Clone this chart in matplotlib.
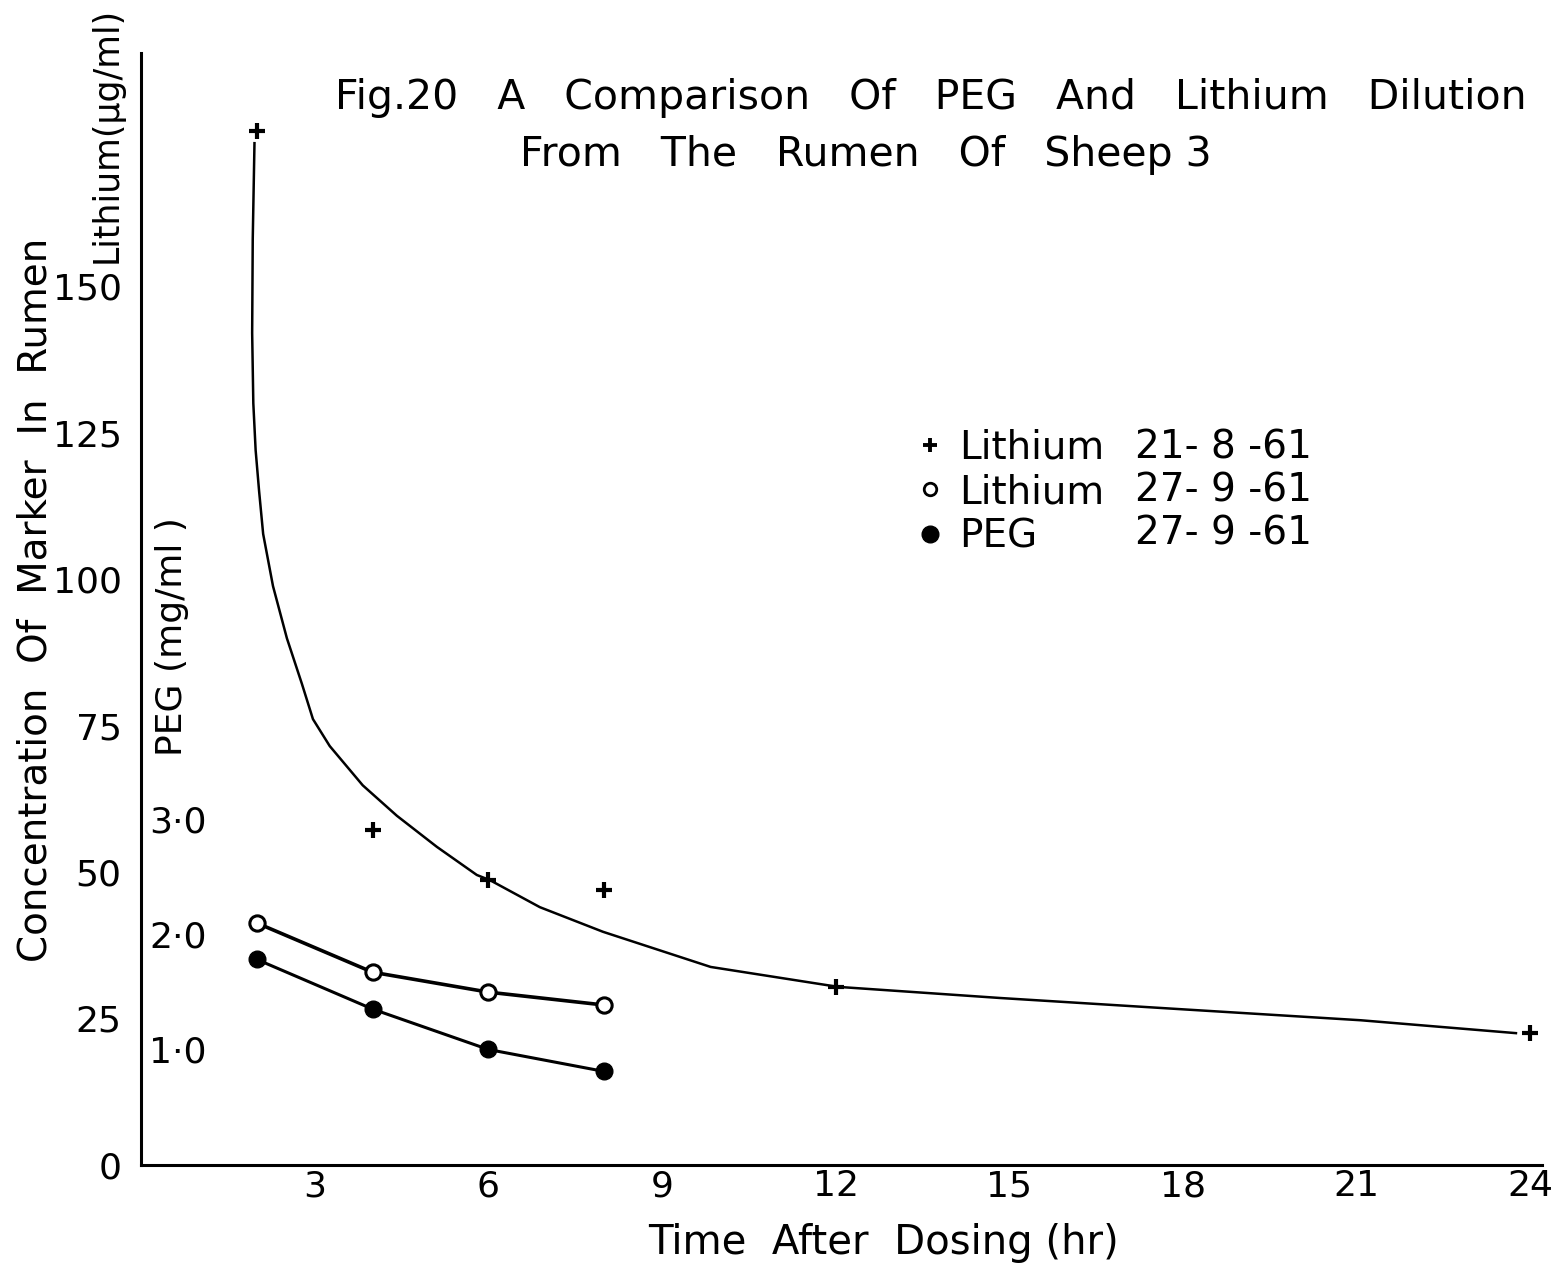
import numpy as np
import matplotlib
matplotlib.use("Agg")
import matplotlib.pyplot as plt
from matplotlib.lines import Line2D

# Lithium 21-8-61 sampling points and the hand-fitted decay curve through them
li_a_hours = [2, 4, 6, 8, 12, 24]
li_a_conc = [176.5, 57.2, 48.6, 46.9, 30.4, 22.5]

li_a_fit_hours = [1.96, 1.93, 1.92, 1.94, 1.98, 2.04, 2.11, 2.28, 2.52, 2.78, 2.97,
                  3.26, 3.83, 4.42, 5.11, 5.80, 6.03, 6.89, 7.98, 9.84, 12.04,
                  14.84, 17.94, 21.07, 23.75]
li_a_fit_conc = [174.4, 158.0, 142.0, 130.0, 122.0, 115.0, 107.7, 98.8, 89.9, 82.1, 76.1,
                 71.5, 64.8, 59.6, 54.3, 49.5, 48.6, 44.0, 39.8, 33.8, 30.4,
                 28.5, 26.6, 24.7, 22.5]

# Lithium 27-9-61 (ug/ml) and PEG 27-9-61 (mg/ml)
b_hours = [2, 4, 6, 8]
li_b_conc = [41.3, 32.9, 29.5, 27.3]
peg_conc = [1.78, 1.35, 1.00, 0.81]

x_ticks = [3, 6, 9, 12, 15, 18, 21, 24]
li_ticks = [0, 25, 50, 75, 100, 125, 150]
peg_ticks = [1.0, 2.0, 3.0]
peg_tick_labels = ["1·0", "2·0", "3·0"]

legend_names = ["Lithium", "Lithium", "PEG"]
legend_dates = ["21- 8 -61", "27- 9 -61", "27- 9 -61"]

LI_TOP = 189.8
PEG_PER_LI = 19.71   # lithium units per 1 mg/ml PEG on the shared vertical scale

plt.rcParams["font.family"] = "DejaVu Sans"
fig = plt.figure(figsize=(15.65, 12.7), dpi=100)
ax = fig.add_axes([0.0901, 0.0827, 0.8952, 0.8756])

ax.set_xlim(0, 24.2)
ax.set_ylim(0, LI_TOP)
for side in ("top", "right"):
    ax.spines[side].set_visible(False)
for side in ("left", "bottom"):
    ax.spines[side].set_linewidth(2.2)

ax.set_xticks(x_ticks)
ax.set_yticks(li_ticks)
ax.tick_params(axis="x", length=0, pad=3, labelsize=26)
ax.tick_params(axis="y", length=0, pad=14, labelsize=26)

# lithium 21-8-61
ax.plot(li_a_fit_hours, li_a_fit_conc, color="black", lw=1.8)
ax.plot(li_a_hours, li_a_conc, ls="none", marker="+", ms=12, mew=3,
        color="black")

# lithium 27-9-61
ax.plot(b_hours, li_b_conc, color="black", lw=2.6, marker="o", ms=11,
        mfc="white", mec="black", mew=2.2)

# PEG on its own scale, labels sitting just inside the lithium axis
ax2 = ax.twinx()
ax2.set_ylim(0, LI_TOP / PEG_PER_LI)
for side in ("top", "right", "left", "bottom"):
    ax2.spines[side].set_visible(False)
ax2.spines["right"].set_position(("axes", 0.0))
ax2.set_yticks(peg_ticks)
ax2.set_yticklabels(peg_tick_labels)
ax2.tick_params(axis="y", length=0, pad=6, labelsize=26)
ax2.plot(b_hours, peg_conc, color="black", lw=2.2, marker="o", ms=12,
         mfc="black", mec="black")

# axis titles
fig.text(0.0225, 0.5276, "Concentration  Of  Marker  In  Rumen", rotation=90,
         ha="center", va="center", fontsize=28)
fig.text(0.0680, 0.8937, "Lithium(μg/ml)", rotation=90,
         ha="center", va="center", fontsize=25)
fig.text(0.1100, 0.4985, "PEG (mg/ml )", rotation=90,
         ha="center", va="center", fontsize=26)
ax.set_xlabel("Time  After  Dosing (hr)", fontsize=29)
ax.xaxis.set_label_coords(0.530, -0.052)

fig.text(0.2140, 0.9230,
         "Fig.20   A   Comparison   Of   PEG   And   Lithium   Dilution",
         ha="left", va="center", fontsize=29.5)
fig.text(0.5530, 0.8780, "From   The   Rumen   Of   Sheep 3",
         ha="center", va="center", fontsize=29.5)

# legend: markers + names, dates in a second column
handles = [
    Line2D([], [], ls="none", marker="+", ms=10, mew=2.8, color="black"),
    Line2D([], [], ls="none", marker="o", ms=9, mfc="white", mec="black", mew=2),
    Line2D([], [], ls="none", marker="o", ms=12, mfc="black", mec="black"),
]
ax.legend(handles, legend_names, loc="upper left", bbox_to_anchor=(0.5546, 0.662),
          frameon=False, fontsize=28, handlelength=0.6, handletextpad=0.45,
          labelspacing=0.16, borderpad=0, borderaxespad=0)
for i, d in enumerate(legend_dates):
    fig.text(0.7252, 0.6480 - i * 0.0339, d, ha="left", va="center", fontsize=28)

fig.savefig("out.png", dpi=100, facecolor="white")
